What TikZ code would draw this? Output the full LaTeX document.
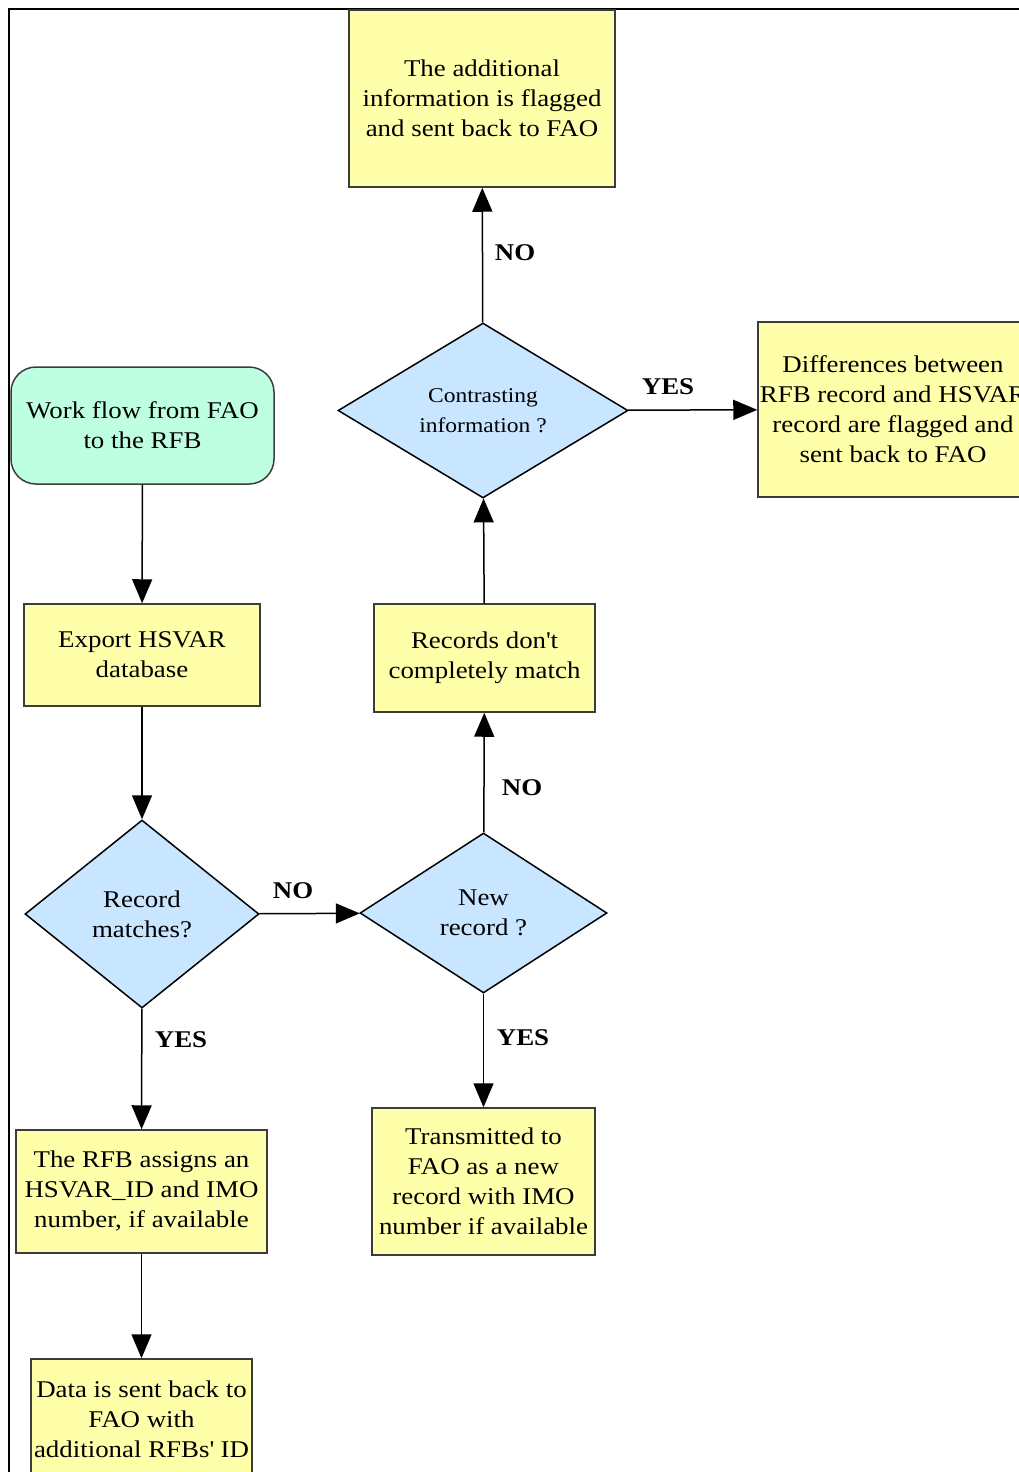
\documentclass[tikz,border=0pt]{standalone}
\usepackage{fontspec}
\setmainfont[FakeStretch=1.12]{Liberation Serif}
\usetikzlibrary{shapes.geometric,arrows.meta}
\definecolor{boxyellow}{RGB}{255,255,170}
\definecolor{dmblue}{RGB}{200,230,255}
\definecolor{startmint}{RGB}{190,255,225}
\definecolor{edgegray}{RGB}{60,60,60}
\tikzset{
  base/.style={draw=edgegray, line width=1.5pt, align=center, inner sep=0pt,
    font=\fontsize{24}{30}\selectfont},
  procbox/.style={base, rectangle, fill=boxyellow},
  startbox/.style={base, rectangle, rounded corners=25pt, fill=startmint},
  decision/.style={base, diamond, fill=dmblue, draw=black, aspect=1.5},
  flow/.style={line width=1.5pt, -{Triangle[length=24pt,width=20pt]}},
  lbl/.style={font=\bfseries\fontsize{24}{30}\selectfont, inner sep=0pt}
}
\begin{document}
\begin{tikzpicture}[x=1pt,y=-1pt]
\useasboundingbox (0,0) rectangle (1019,1472);
\clip (0,0) rectangle (1019,1472);
% frame
\draw[line width=2.5pt] (9,1480) -- (9,9) -- (1030,9);
% nodes
\node[procbox, minimum width=266pt, minimum height=177pt] (A) at (482,98.5)
  {The additional\\information is flagged\\and sent back to FAO};
\node[decision, minimum width=290pt, minimum height=175pt] (C) at (483,410.5)
  {\fontsize{21}{28}\selectfont Contrasting\\\fontsize{21}{28}\selectfont information ?};
\node[procbox, minimum width=270pt, minimum height=175pt] (D) at (893,409.5)
  {Differences between\\RFB record and HSVAR\\record are flagged and\\sent back to FAO};
\node[startbox, minimum width=263pt, minimum height=117pt] (S) at (142.5,425.5)
  {Work flow from FAO\\to the RFB};
\node[procbox, minimum width=236pt, minimum height=102pt] (E) at (142,655)
  {Export HSVAR\\database};
\node[decision, minimum width=234pt, minimum height=188pt] (R) at (142,914)
  {Record\\matches?};
\node[decision, minimum width=247pt, minimum height=160pt] (N) at (483.5,913)
  {New\\record ?};
\node[procbox, minimum width=221pt, minimum height=108pt] (M) at (484.5,658)
  {Records don\textquotesingle t\\completely match};
\node[procbox, minimum width=251pt, minimum height=123pt] (F) at (141.5,1191.5)
  {The RFB assigns an\\HSVAR\_ID and IMO\\number, if available};
\node[procbox, minimum width=223pt, minimum height=147pt] (T) at (483.5,1181.5)
  {Transmitted to\\FAO as a new\\record with IMO\\number if available};
\node[procbox, minimum width=221pt, minimum height=121pt] (G) at (141.5,1419.5)
  {Data is sent back to\\FAO with\\additional RFBs\textquotesingle\ ID};
% connectors
\draw[flow] (S) -- (E);
\draw[flow] (E) -- (R);
\draw[flow] (R) -- (F);
\draw[flow] (F) -- (G);
\draw[flow] (R) -- (N);
\draw[flow] (N) -- (M);
\draw[flow] (N) -- (T);
\draw[flow] (M) -- (C);
\draw[flow] (C) -- (A);
\draw[flow] (C) -- (D);
% labels
\node[lbl] (l1) at (515,253) {NO};
\node[lbl] (l2) at (668,387) {YES};
\node[lbl] (l3) at (293,891) {NO};
\node[lbl] (l4) at (181,1040) {YES};
\node[lbl] (l5) at (522,788) {NO};
\node[lbl] (l6) at (523,1038) {YES};
\end{tikzpicture}
\end{document}
